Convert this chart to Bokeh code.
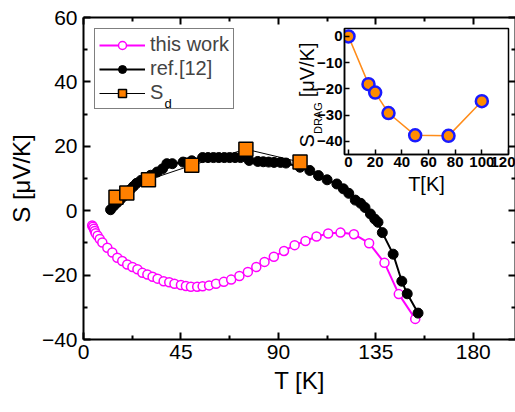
import math
from bokeh.plotting import figure
from bokeh.models import (LinearAxis, FixedTicker, Range1d, Legend, LegendItem, Label,
                          CustomJSTickFormatter)
from bokeh.layouts import column
from bokeh.embed import file_html
from bokeh.resources import INLINE

FONT = "Liberation Sans"

# ---------------- data ----------------
work_T = [4, 4.4, 4.8, 5.2, 5.6, 6.5, 7.5, 8.7, 11, 13.3, 15.6, 17.9, 20.2, 22.6, 24.9, 27.2,
          29.5, 31.9, 34.2, 37, 39.6, 42, 45, 47.3, 49.6, 52.5, 55, 58, 61.2, 64.8, 68.2, 72,
          75.9, 79.8, 83.6, 87.9, 92.6, 97.5, 102.5, 107.6, 113, 118.7, 124.9, 131.9, 139,
          145.6, 153.2]
work_S = [-4.6, -5, -5.6, -6.3, -7, -7.8, -8.8, -9.9, -11.5, -13, -14.6, -15.6, -16.7, -17.5,
          -18.2, -19.3, -19.8, -20.5, -21.1, -21.9, -22.2, -22.7, -23.1, -23.4, -23.6, -23.6,
          -23.5, -23.2, -22.7, -22.1, -21.4, -20.3, -19, -17.5, -15.9, -14.3, -12.5, -10.7,
          -9.4, -8, -7.1, -6.8, -7.3, -10.1, -16.2, -25.9, -33.6]

ref_T = [12.5, 14, 15.5, 17, 18.5, 20, 21.5, 23, 24.5, 26.5, 28.5, 31, 34, 36.5, 38.5, 41, 46,
         50, 55, 57.5, 60, 62.5, 65, 67.5, 70, 72.5, 76.5, 80.5, 83, 85.5, 88, 91, 93.5, 100,
         104.5, 108.5, 112.5, 117, 120, 122.5, 125.5, 128, 130, 132.5, 134.5, 136, 138, 143,
         147, 149.5, 154.5]
ref_S = [0.3, 1.5, 2.5, 3.5, 4.5, 5.5, 6.5, 7.5, 8.5, 9.4, 10, 11, 12, 13, 14.6, 14.6, 15.1,
         15.5, 16.5, 16.5, 16.5, 16.5, 16.5, 16.5, 16.5, 16.5, 15.6, 15.3, 15.2, 15.1, 15, 15,
         14.8, 13.5, 12.5, 10.9, 9.6, 8.3, 6.8, 5.4, 3.3, 2.3, 1, -1, -2.6, -3.6, -6.8, -13.5,
         -21.9, -25.8, -31.8]

sd_T = [15, 20, 30, 50, 75, 100]
sd_S = [4.2, 5.5, 9.6, 14.1, 19.1, 15.1]

drag_T = [0, 15, 20, 30, 50, 75, 100]
drag_S = [0, -18.2, -21.4, -29.2, -37.7, -37.9, -24.7]

x_major = [0, 45, 90, 135, 180]
x_minor = [22.5, 67.5, 112.5, 157.5]
y_major = [-40, -20, 0, 20, 40, 60]
y_minor = [-30, -10, 10, 30, 50]

ix_major = [0, 20, 40, 60, 80, 100, 120]
iy_major = [0, -10, -20, -30, -40]

W, H = 515, 412

# ---------------- main figure ----------------
p = figure(width=W, height=H, x_range=Range1d(0, 199.5), y_range=Range1d(-40, 60),
           output_backend="svg", toolbar_location=None,
           x_axis_label="T [K]", y_axis_label="S [μV/K]",
           min_border_left=83, min_border_right=0, min_border_top=17, min_border_bottom=73)
p.frame_align = False
p.grid.visible = False
p.outline_line_color = None
p.background_fill_color = "white"
p.border_fill_color = "white"

p.add_layout(LinearAxis(), "right")
p.add_layout(LinearAxis(), "above")

for ax in p.xaxis:
    ax.ticker = FixedTicker(ticks=x_major, minor_ticks=x_minor)
for ax in p.yaxis:
    ax.ticker = FixedTicker(ticks=y_major, minor_ticks=y_minor)

for ax in p.axis:
    ax.axis_line_width = 2
    ax.axis_line_color = "black"
    ax.major_tick_in = 7
    ax.major_tick_out = 0
    ax.minor_tick_in = 4
    ax.minor_tick_out = 0
    ax.major_tick_line_width = 2
    ax.minor_tick_line_width = 2
    ax.major_tick_line_color = "black"
    ax.minor_tick_line_color = "black"
    ax.major_label_text_font = FONT
    ax.major_label_text_font_size = "21px"
    ax.major_label_text_color = "black"
    ax.axis_label_text_font = FONT
    ax.axis_label_text_font_size = "24px"
    ax.axis_label_text_font_style = "normal"
    ax.axis_label_text_color = "black"
    ax.major_label_standoff = 5

p.xaxis[0].major_label_standoff = 8
p.xaxis[0].axis_label_standoff = 16
p.yaxis[0].axis_label_standoff = 4
p.yaxis[0].major_label_standoff = 6
for ax in (p.above[0], p.right[0]):
    ax.formatter = CustomJSTickFormatter(code="return ''")
    ax.major_label_text_color = None
    ax.major_label_text_font_size = "1px"
    ax.major_label_standoff = 0
    ax.axis_label_standoff = 0
    ax.axis_label = None

r_work_l = p.line(work_T, work_S, line_color="#ff00ff", line_width=2)
r_work_m = p.scatter(work_T, work_S, marker="circle", size=9, line_color="#ff00ff",
                     line_width=1.5, fill_color="white")
r_ref_l = p.line(ref_T, ref_S, line_color="black", line_width=2)
r_ref_m = p.scatter(ref_T, ref_S, marker="circle", size=10, line_color="black",
                    fill_color="black")
r_sd_l = p.line(sd_T, sd_S, line_color="black", line_width=1)
r_sd_m = p.scatter(sd_T, sd_S, marker="square", size=14, line_color="black",
                   line_width=1.5, fill_color="#ff8000")

legend = Legend(items=[LegendItem(label="this work", renderers=[r_work_l, r_work_m]),
                       LegendItem(label="ref.[12]", renderers=[r_ref_l, r_ref_m]),
                       LegendItem(label="S", renderers=[r_sd_l, r_sd_m])],
                location="top_left", margin=11, padding=4, spacing=1,
                glyph_width=46, glyph_height=20, label_height=20, label_standoff=5,
                label_text_font=FONT, label_text_font_size="20px",
                border_line_color="black", border_line_width=1,
                background_fill_alpha=0)
p.add_layout(legend)
# subscript "d" of the legend label S_d
p.add_layout(Label(x=37.4, y=33.4, text="d", text_baseline="alphabetic", level="overlay",
                   text_font=FONT, text_font_size="13px", text_color="black"))

# inset y-axis title  S_DRAG [μV/K]  (rotated, drawn as three pieces)
p.add_layout(Label(x=103.2, y=19.6, text="S", angle=math.pi / 2,
                   text_baseline="middle", text_align="left", level="overlay",
                   text_font=FONT, text_font_size="20px", text_color="black"))
p.add_layout(Label(x=108.3, y=23.8, text="DRAG", angle=math.pi / 2,
                   text_baseline="middle", text_align="left", level="overlay",
                   text_font=FONT, text_font_size="11px", text_color="black"))
p.add_layout(Label(x=103.2, y=35.2, text="[μV/K]", angle=math.pi / 2,
                   text_baseline="middle", text_align="left", level="overlay",
                   text_font=FONT, text_font_size="20px", text_color="black"))

# ---------------- inset (same canvas size, overlaid) ----------------
q = figure(width=W, height=H, x_range=Range1d(-3, 120), y_range=Range1d(-45, 3),
           output_backend="svg", toolbar_location=None, x_axis_label="T[K]",
           min_border_left=344, min_border_right=7, min_border_top=28,
           min_border_bottom=H - 154)
q.frame_align = False
q.grid.visible = False
q.background_fill_color = "white"
q.background_fill_alpha = 1
q.border_fill_alpha = 0
q.outline_line_color = "black"
q.outline_line_width = 1.5
q.xaxis.ticker = FixedTicker(ticks=ix_major, minor_ticks=[])
q.yaxis.ticker = FixedTicker(ticks=iy_major, minor_ticks=[])
for ax in q.axis:
    ax.axis_line_width = 1.5
    ax.major_tick_in = 5
    ax.major_tick_out = 0
    ax.minor_tick_in = 0
    ax.minor_tick_out = 0
    ax.major_tick_line_width = 1.5
    ax.major_label_text_font = FONT
    ax.major_label_text_font_size = "15px"
    ax.major_label_text_font_style = "bold"
    ax.major_label_text_color = "black"
    ax.major_label_standoff = 2
    ax.axis_label_text_font = FONT
    ax.axis_label_text_font_size = "20px"
    ax.axis_label_text_font_style = "normal"
    ax.axis_label_text_color = "black"
q.xaxis.axis_label_standoff = 3

q.line(drag_T, drag_S, line_color="#ff8c1a", line_width=1.5)
q.scatter(drag_T, drag_S, marker="circle", size=12, fill_color="#ff8c00",
          line_color="#1a1aff", line_width=2.5)

q.margin = (-H, 0, 0, 0)

layout = column(p, q)
open("out.html", "w").write(file_html(layout, INLINE))
